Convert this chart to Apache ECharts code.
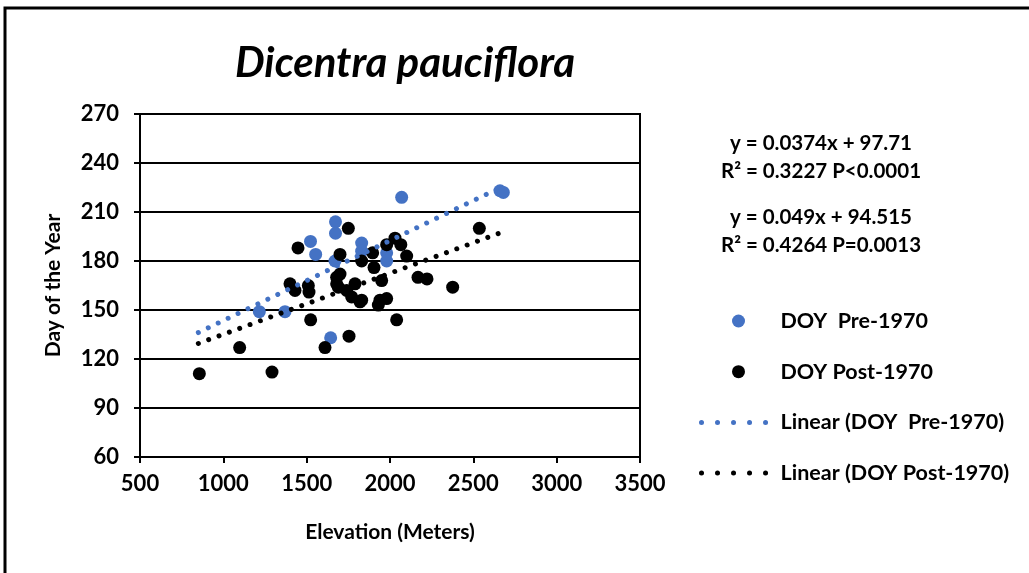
<!DOCTYPE html>
<html>
<head>
<meta charset="utf-8">
<script src="https://cdn.jsdelivr.net/npm/echarts@6/dist/echarts.min.js"></script>
<style>
  html, body { margin: 0; padding: 0; background: #fff; }
  #chart { width: 1029px; height: 573px; }
</style>
</head>
<body>
<div id="chart"></div>
<script>
// elevation (m) / day of year
var preElev = [1216, 1370, 1644, 1523, 1554, 1673, 1673, 1670, 1830, 1830, 1980, 1980, 2070, 2660, 2680];
var preDoy  = [149, 149, 133, 192, 184, 204, 197, 180, 191, 186, 185, 180, 219, 223, 222];

var postElev = [856, 1292, 1098, 1610, 1524, 1400, 1430, 1510, 1514, 1448, 1750, 1700, 1830, 1896, 1980,
                2030, 2065, 2100, 1904, 1950, 2168, 2222, 1680, 1690, 1740, 1770, 1820, 1790, 1940, 1980,
                1930, 2040, 1754, 2536, 2376, 1680, 1830, 1700];
var postDoy  = [111, 112, 127, 127, 144, 166, 162, 165, 161, 188, 200, 184, 180, 185, 190,
                194, 190, 183, 176, 168, 170, 169, 170, 164, 162, 158, 155, 166, 156, 157,
                153, 144, 134, 200, 164, 166, 156, 172];

// trendline end points
var preTrendX  = [850, 2680];
var preTrendY  = [136.2, 225.8];
var postTrendX = [850, 2650];
var postTrendY = [129.5, 196.8];

var eqPre  = ['y = 0.0374x + 97.71', 'R\u00b2 = 0.3227 P<0.0001'];
var eqPost = ['y = 0.049x + 94.515', 'R\u00b2 = 0.4264 P=0.0013'];

var names = ['DOY  Pre-1970', 'DOY Post-1970', 'Linear (DOY  Pre-1970)', 'Linear (DOY Post-1970)'];

function pairs(xs, ys) {
  var out = [];
  for (var i = 0; i < xs.length; i++) out.push([xs[i], ys[i]]);
  return out;
}

var FONT = 'Lato';
var BLUE = '#4472C4';
var dotted = [0.01, 11];
var legendDots = [0.01, 16];

var chart = echarts.init(document.getElementById('chart'), null, { renderer: 'canvas' });

var option = {
  animation: false,
  backgroundColor: '#fff',
  grid: {
    left: 140, right: 389, top: 114, bottom: 116,
    show: true, borderColor: '#000', borderWidth: 2, backgroundColor: 'transparent'
  },
  xAxis: {
    type: 'value', min: 500, max: 3500, interval: 500,
    name: 'Elevation (Meters)', nameLocation: 'middle', nameGap: 65,
    nameTextStyle: { fontFamily: FONT, fontWeight: 'bold', fontSize: 21, color: '#000' },
    axisLine: { show: true, lineStyle: { color: '#000', width: 2 } },
    axisTick: { show: true, length: 6, lineStyle: { color: '#000', width: 2 } },
    axisLabel: { fontFamily: FONT, fontWeight: 'bold', fontSize: 22, color: '#000', margin: 16,
                 formatter: function (v) { return String(v); } },
    splitLine: { show: false }
  },
  yAxis: {
    type: 'value', min: 60, max: 270, interval: 30,
    name: 'Day of the Year', nameLocation: 'middle', nameGap: 76, nameRotate: 90,
    nameTextStyle: { fontFamily: FONT, fontWeight: 'bold', fontSize: 21, color: '#000' },
    axisLine: { show: true, lineStyle: { color: '#000', width: 2 } },
    axisTick: { show: true, length: 6, lineStyle: { color: '#000', width: 2 } },
    axisLabel: { fontFamily: FONT, fontWeight: 'bold', fontSize: 22, color: '#000', margin: 21 },
    splitLine: { show: true, lineStyle: { color: '#000', width: 2 } }
  },
  legend: {
    orient: 'vertical', left: 694, top: 305,
    itemWidth: 74, itemHeight: 13, itemGap: 28.7,
    data: [
      { name: names[0] },
      { name: names[1] },
      { name: names[2], itemStyle: { opacity: 0 },
        lineStyle: { color: BLUE, width: 5, type: legendDots, cap: 'round' } },
      { name: names[3], itemStyle: { opacity: 0 },
        lineStyle: { color: '#000', width: 5, type: legendDots, cap: 'round' } }
    ],
    textStyle: { fontFamily: FONT, fontWeight: 'bold', fontSize: 21.5, color: '#000', padding: 0 }
  },
  series: [
    {
      name: names[0], type: 'scatter', symbolSize: 13,
      itemStyle: { color: BLUE, opacity: 1 },
      data: pairs(preElev, preDoy), z: 2
    },
    {
      name: names[1], type: 'scatter', symbolSize: 13,
      itemStyle: { color: '#000', opacity: 1 },
      data: pairs(postElev, postDoy), z: 2
    },
    {
      name: names[2], type: 'line', symbol: 'none', showSymbol: false,
      itemStyle: { color: BLUE },
      lineStyle: { color: BLUE, width: 5, type: dotted, cap: 'round' },
      data: pairs(preTrendX, preTrendY), z: 3
    },
    {
      name: names[3], type: 'line', symbol: 'none', showSymbol: false,
      itemStyle: { color: '#000' },
      lineStyle: { color: '#000', width: 5, type: dotted, cap: 'round' },
      data: pairs(postTrendX, postTrendY), z: 3
    }
  ],
  graphic: [
    {
      type: 'rect', shape: { x: 5, y: 8, width: 1040, height: 600 },
      style: { fill: null, stroke: '#000', lineWidth: 3 }, silent: true, z: 0
    },
    {
      type: 'text', x: 405, y: 63,
      style: { text: 'Dicentra pauciflora', fontFamily: FONT, fontStyle: 'italic', fontWeight: 'bold', fontSize: 42,
               fill: '#000', textAlign: 'center', textVerticalAlign: 'middle' }
    },
    {
      type: 'text', x: 821, y: 157,
      style: { text: eqPre[0] + '\n' + eqPre[1], fontFamily: FONT, fontWeight: 'bold', fontSize: 20.5,
               lineHeight: 28, fill: '#000', textAlign: 'center', textVerticalAlign: 'middle' }
    },
    {
      type: 'text', x: 821, y: 231,
      style: { text: eqPost[0] + '\n' + eqPost[1], fontFamily: FONT, fontWeight: 'bold', fontSize: 20.5,
               lineHeight: 28, fill: '#000', textAlign: 'center', textVerticalAlign: 'middle' }
    }
  ]
};

chart.setOption(option);
</script>
</body>
</html>
